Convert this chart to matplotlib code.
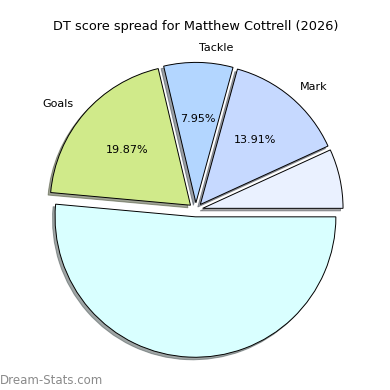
import matplotlib
matplotlib.use("Agg")
from matplotlib import pyplot as plt

# slices, counter-clockwise from 3 o'clock
labels = ["", "Mark", "Tackle", "Goals", ""]
shares = [6.83, 13.91, 7.95, 19.87, 51.44]
colors = ["#eaf1ff", "#c6d9ff", "#b3d6ff", "#d0ea8a", "#d9ffff"]
title = "DT score spread for Matthew Cottrell (2026)"

fig = plt.figure(figsize=(3.9, 3.9), dpi=100)
ax = fig.add_axes([0.052, 0.012, 0.9, 0.9])

wedges, texts, autotexts = ax.pie(
    shares,
    labels=labels,
    colors=colors,
    explode=[0.05] * len(shares),
    autopct="%1.2f%%",
    shadow={"ox": -0.013, "oy": -0.013},
    wedgeprops={"edgecolor": "black", "linewidth": 0.7},
    textprops={"fontsize": 8},
)

# percentages only where the slice has a name
for lab, t in zip(labels, autotexts):
    if not lab:
        t.set_text("")

ax.set_title(title, fontsize=9.3, pad=3)

fig.text(0.0, 0.008, "Dream-Stats.com", color="#8a8a8a", fontsize=8.5,
         ha="left", va="bottom")

fig.savefig("out.png", dpi=100)
